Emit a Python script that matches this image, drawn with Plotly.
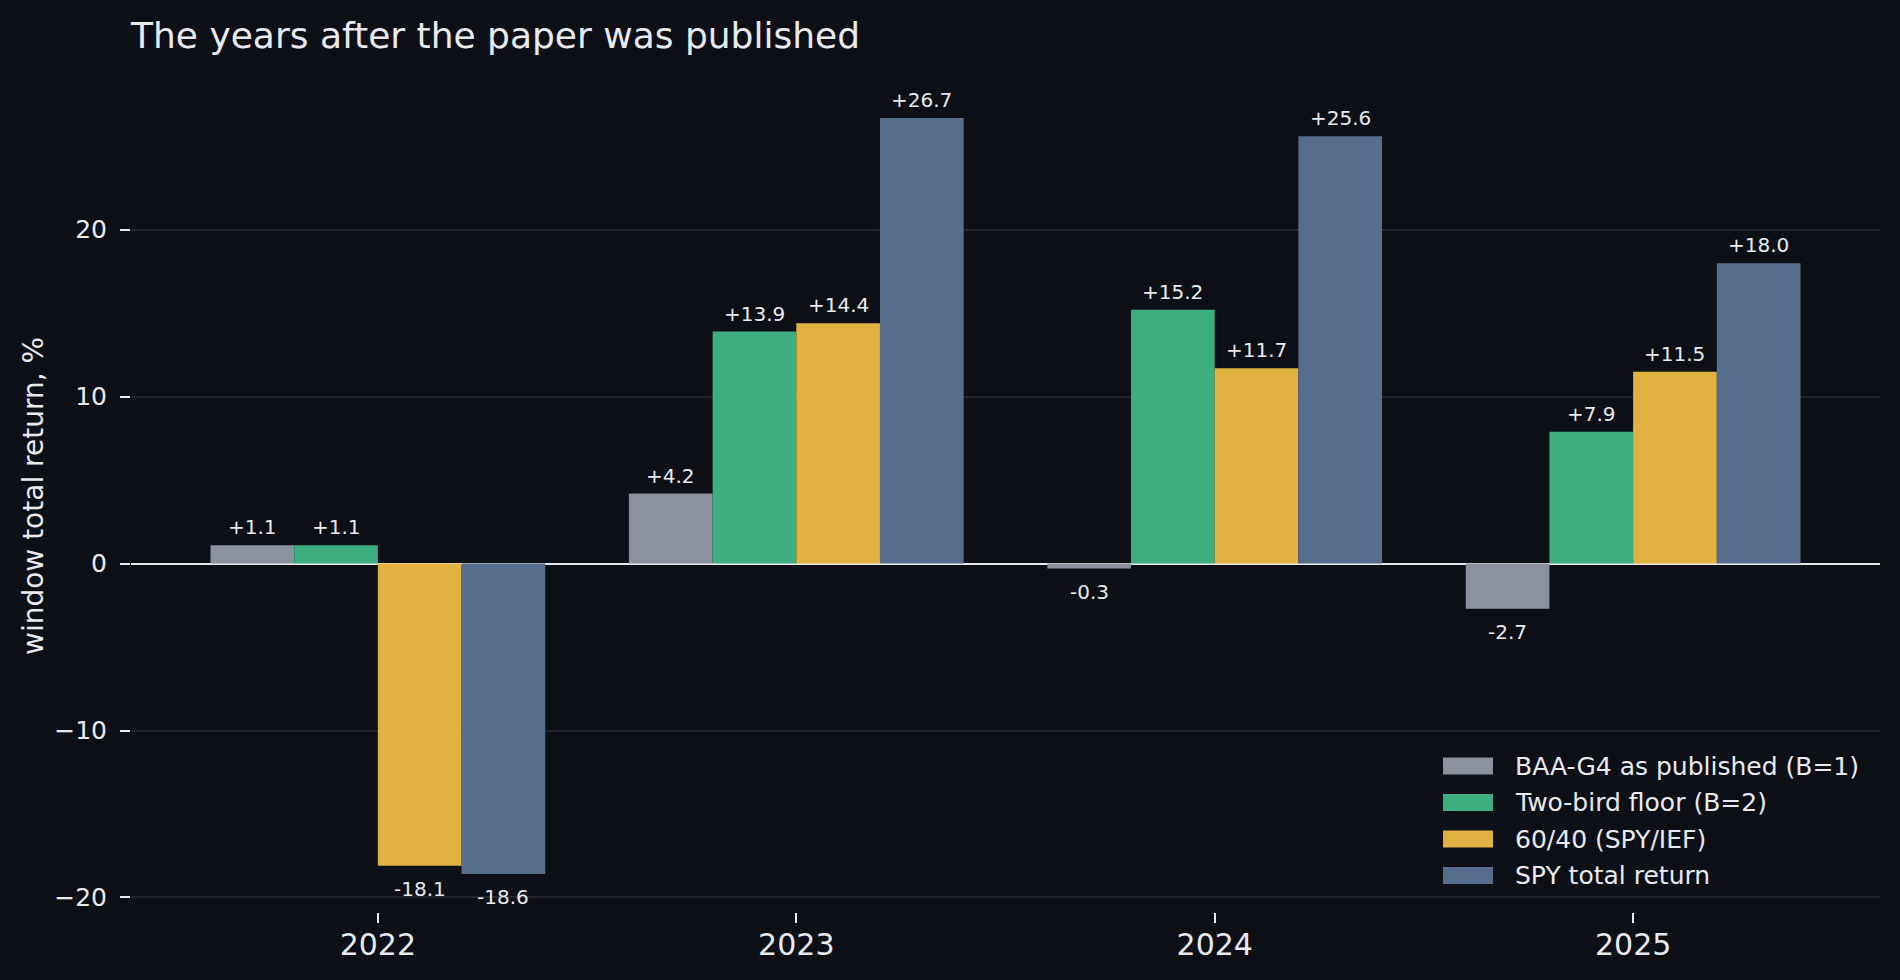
import plotly.graph_objects as go

# ---------------- data ----------------
categories = ["2022", "2023", "2024", "2025"]
series_names = [
    "BAA-G4 as published (B=1)",
    "Two-bird floor (B=2)",
    "60/40 (SPY/IEF)",
    "SPY total return",
]
baa_g4 = [1.1, 4.2, -0.3, -2.7]
two_bird = [1.1, 13.9, 15.2, 7.9]
sixty_forty = [-18.1, 14.4, 11.7, 11.5]
spy_total = [-18.6, 26.7, 25.6, 18.0]
y_tick_vals = [-20, -10, 0, 10, 20]
y_tick_text = ["\u221220", "\u221210", "0", "10", "20"]

series_values = [baa_g4, two_bird, sixty_forty, spy_total]
colors = ["#8b929e", "#3dae80", "#e1b242", "#546e8c"]

# ---------------- style ----------------
W, H = 1900, 980
ML, MR, MT, MB = 131, 20, 80, 68
BG = "#0d1017"
GRID = "#22252d"
TXT = "#e8eaf0"
FONT = "DejaVu Sans"

x_pos = list(range(len(categories)))
n_series = len(series_values)
group_frac = 0.8
bar_w = group_frac / n_series

fig = go.Figure()
for name, vals, col in zip(series_names, series_values, colors):
    fig.add_bar(x=x_pos, y=vals, name=name, marker=dict(color=col, line=dict(width=0)),
                showlegend=False, hoverinfo="skip")

# value labels
annotations = []
for i, vals in enumerate(series_values):
    off = (i - (n_series - 1) / 2) * bar_w
    for j, v in enumerate(vals):
        txt = f"+{v:.1f}" if v >= 0 else f"-{abs(v):.1f}"
        annotations.append(dict(
            x=x_pos[j] + off, y=v, xref="x", yref="y",
            text=txt, showarrow=False,
            font=dict(family=FONT, size=20, color=TXT),
            xanchor="center", yanchor="middle",
            yshift=18 if v >= 0 else -23,
        ))

pw = W - ML - MR
ph = H - MT - MB

# y-axis title
annotations.append(dict(
    x=-(ML - 33) / pw, y=0.5, xref="paper", yref="paper",
    text="window total return, %", textangle=-90, showarrow=False,
    font=dict(family=FONT, size=28, color=TXT), xanchor="center", yanchor="middle",
))

# manual legend
leg_x0 = 1443
leg_sw = 50
leg_sh = 17
leg_y0 = 766
leg_dy = 36.5
shapes = []
for k, (name, col) in enumerate(zip(series_names, colors)):
    cy = leg_y0 + k * leg_dy
    shapes.append(dict(
        type="rect", xref="paper", yref="paper",
        x0=(leg_x0 - ML) / pw, x1=(leg_x0 + leg_sw - ML) / pw,
        y0=(H - MB - (cy + leg_sh / 2)) / ph, y1=(H - MB - (cy - leg_sh / 2)) / ph,
        fillcolor=col, line=dict(width=0), layer="above",
    ))
    annotations.append(dict(
        x=(leg_x0 + leg_sw + 20 - ML) / pw, y=(H - MB - cy) / ph,
        xref="paper", yref="paper", text=name, showarrow=False,
        font=dict(family=FONT, size=25, color=TXT), xanchor="left", yanchor="middle",
    ))

fig.update_layout(
    width=W, height=H,
    margin=dict(l=ML, r=MR, t=MT, b=MB, pad=0),
    paper_bgcolor=BG, plot_bgcolor=BG,
    barmode="group", bargap=1 - group_frac, bargroupgap=0,
    font=dict(family=FONT, color=TXT),
    title=dict(
        text="The years after the paper was published",
        font=dict(family=FONT, size=36, color=TXT),
        x=0, xref="paper", xanchor="left",
        y=1 - 35 / H, yref="container", yanchor="middle",
    ),
    xaxis=dict(
        range=[-0.59, 3.59], tickvals=x_pos, ticktext=categories,
        showgrid=False, zeroline=False, showline=False,
        ticks="outside", ticklen=10, tickwidth=1.5, tickcolor=TXT,
        ticklabelstandoff=-4,
        tickfont=dict(family=FONT, size=30, color=TXT),
    ),
    yaxis=dict(
        range=[-20.87, 28.97], tickvals=y_tick_vals, ticktext=y_tick_text,
        showgrid=True, gridcolor=GRID, gridwidth=1.5,
        zeroline=True, zerolinecolor="#e8e8e8", zerolinewidth=1.8,
        showline=False,
        ticks="outside", ticklen=10, tickwidth=1.5, tickcolor=TXT,
        ticklabelstandoff=8,
        tickfont=dict(family=FONT, size=25, color=TXT),
    ),
    annotations=annotations,
    shapes=shapes,
)

fig.write_html(
    "out.html",
    config={"displayModeBar": False},
    post_script="document.body.style.margin='0px';document.body.style.overflow='hidden';"
                "document.body.style.background='" + BG + "';",
)
